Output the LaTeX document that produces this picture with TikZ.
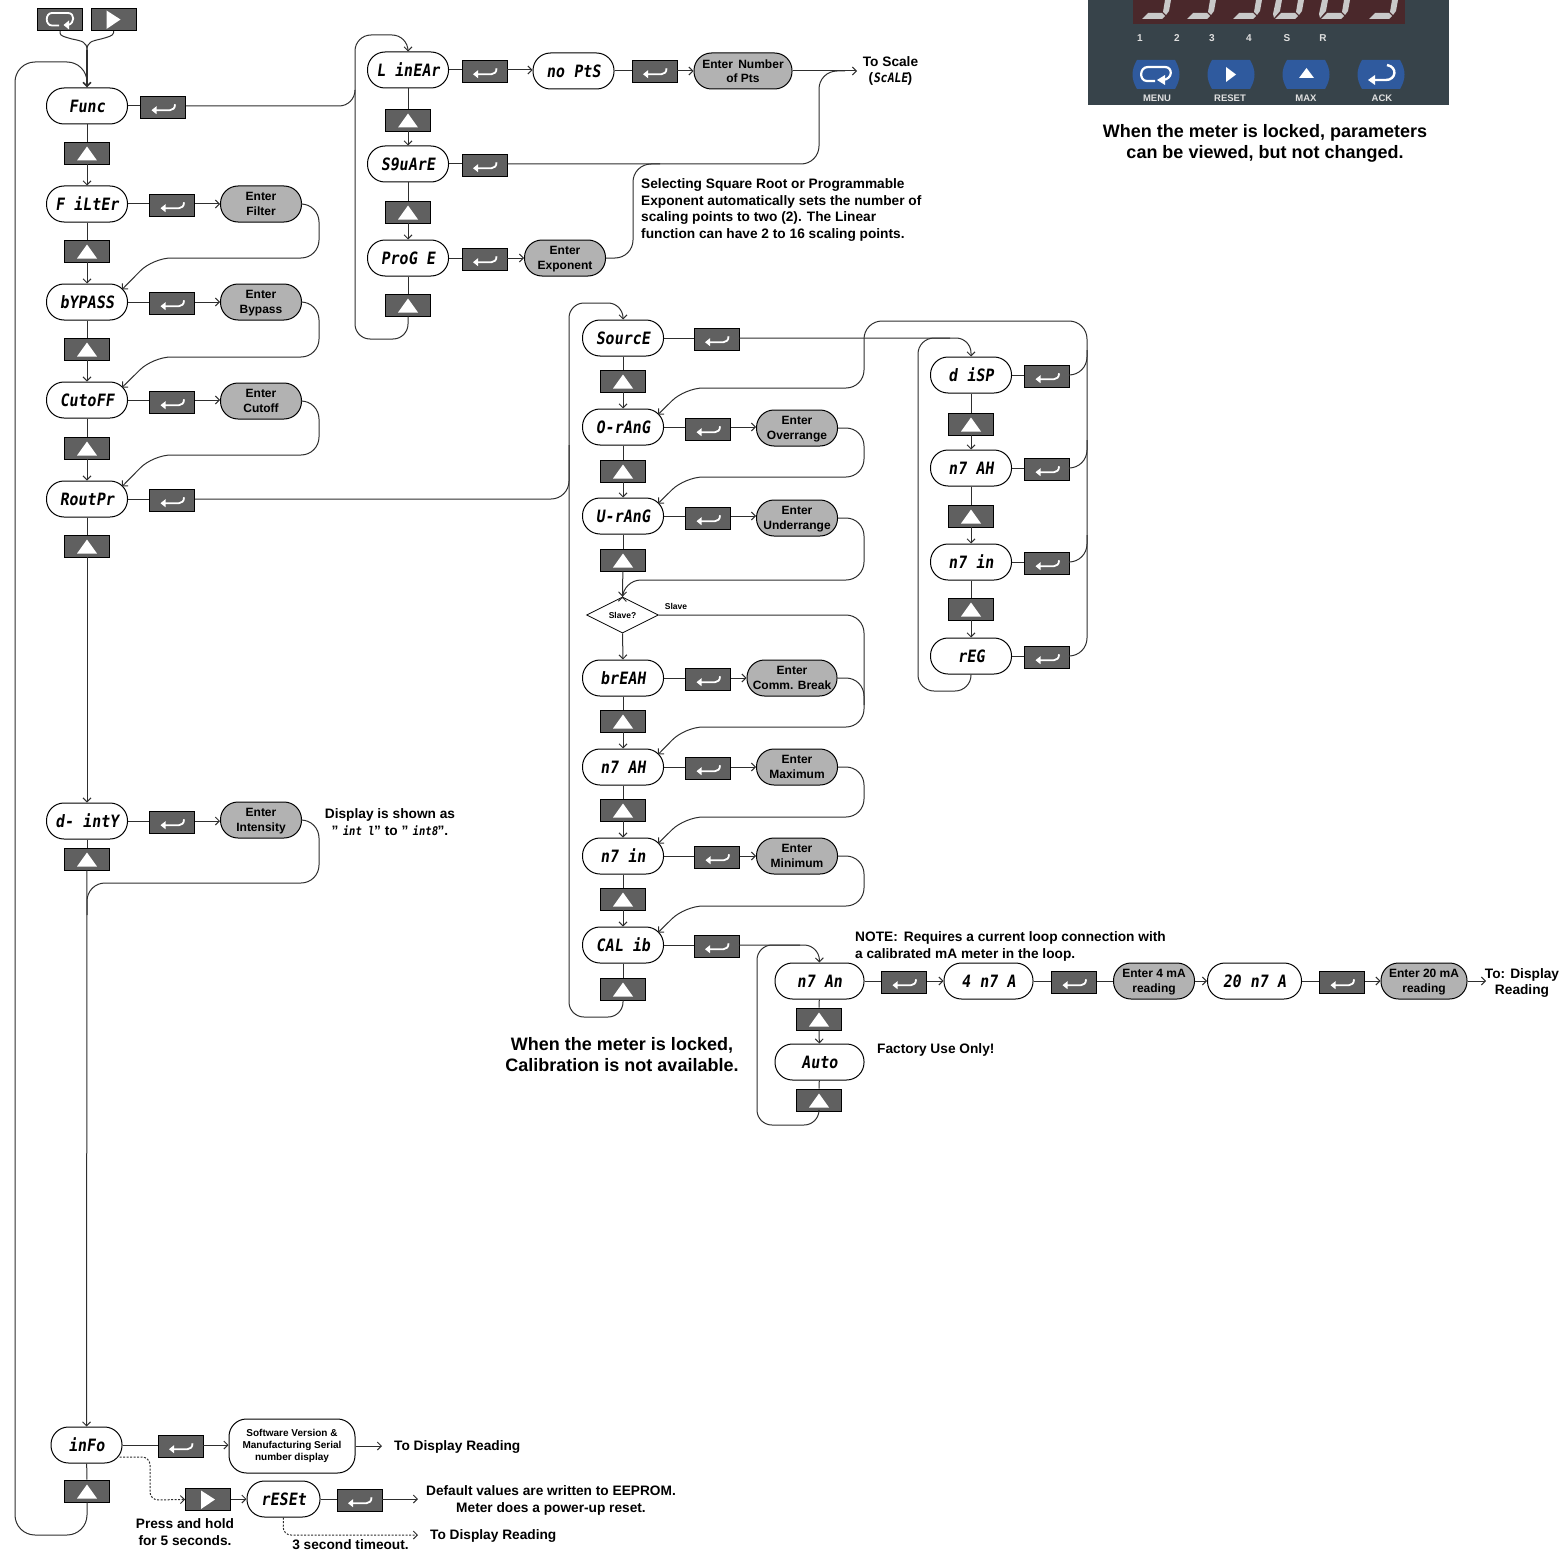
\documentclass[tikz,border=0pt]{standalone}
\usepackage{fontspec}
\setmainfont{Liberation Sans}
\newfontfamily\lcdfam[FakeSlant=0.14,FakeStretch=0.88]{DejaVu Sans Mono}
\usetikzlibrary{arrows.meta,shapes.geometric}
\definecolor{lc}{HTML}{2E2E2E}
\definecolor{btngrey}{HTML}{606060}
\definecolor{pillgrey}{HTML}{B2B2B2}
\definecolor{panelc}{HTML}{37434A}
\definecolor{dispc}{HTML}{4A282B}
\definecolor{bluec}{HTML}{2F5A9E}
\definecolor{segc}{HTML}{C9C9C9}
\newcommand\bft[2]{\bfseries\fontsize{#1}{#2}\selectfont}
\newcommand\rowA[2]{\draw[ln] (#1.east) -- (#1.east -| #2.west);}
\newcommand\rowB[3]{\draw[arr] (#1.east -| #2.east) -- (#1.east -| #3.west);}
\tikzset{
 x=1pt,y=-1pt,
 ln/.style={draw=lc,line width=1pt},
 arr/.style={ln,-{Straight Barb[length=4pt,width=8pt]}},
 dsh/.style={arr,dash pattern=on 2pt off 1.5pt,rounded corners=8},
 rc/.style={rounded corners=18},
 rd/.style={rounded corners=15},
 necorner/.style={xshift=-6,yshift=-6},
 pill/.style={draw=black,line width=1pt,rounded corners=17.5,minimum width=81,minimum height=36,inner sep=0,fill=white,
   font=\lcdfam\bfseries\fontsize{17}{17}\selectfont},
 gpill/.style={pill,fill=pillgrey,font=\bft{12}{14.5},align=center,text depth=-1pt},
 btnbase/.style={draw=black,line width=0.8pt,fill=btngrey,minimum width=45,minimum height=22,inner sep=0},
 upbtn/.style={btnbase,path picture={\begin{scope}[shift={(path picture bounding box.center)}]
    \fill[white] (0,-6.5) -- (10,7.5) -- (-10,7.5) -- cycle;\end{scope}}},
 rtbtn/.style={btnbase,path picture={\begin{scope}[shift={(path picture bounding box.center)}]
    \fill[white] (-7,-9) -- (7,0) -- (-7,9.5) -- cycle;\end{scope}}},
 entbtn/.style={btnbase,path picture={\begin{scope}[shift={(path picture bounding box.center)}]
    \draw[white,line width=1.8pt] (-9,3.2) -- (7,3.2) .. controls (10,3.2) and (12,1) .. (12,-2.7);
    \fill[white] (-11.5,3.2) -- (-6.5,-0.8) -- (-6.5,7.2) -- cycle;\end{scope}}},
 menubtn/.style={btnbase,path picture={\begin{scope}[shift={(path picture bounding box.center)}]
    \draw[white,line width=1.8pt] (-1,6) -- (-8,6) .. controls (-15,6) and (-15,-6.5) .. (-8,-6.5) -- (8,-6.5) .. controls (15,-6.5) and (15,4) .. (8,5.5);
    \fill[white] (3.5,5.5) -- (9,1) -- (9,10) -- cycle;\end{scope}}},
 txt/.style={inner sep=0,align=center,yshift=-2,font=\bft{13.7}{16.5}},
 note/.style={inner sep=0,align=left,yshift=-3,font=\bft{13.7}{16.6}},
 big/.style={inner sep=0,align=center,yshift=-2,font=\bft{18}{21}},
 tiny/.style={inner sep=0,align=center,font=\bft{10}{12}},
 pl/.style={inner sep=0,text=segc!60!white,font=\bft{10}{12}},
}
\begin{document}
\begin{tikzpicture}
\useasboundingbox (0,0) rectangle (1560,1557);
% ---- panel
\fill[panelc] (1088,0) rectangle (1449,105.5);
\fill[dispc] (1133,0) rectangle (1405,24);
\foreach \xx/\lft in {1142/0,1187/0,1233/0,1275/1,1321/1,1369/0}{
 \fill[segc] (\xx,19) -- (\xx+6,13) -- (\xx+20,13) -- (\xx+23,16) -- (\xx+20,19) -- cycle;
 \fill[segc] (\xx+21,12) -- (\xx+24,15) -- (\xx+27,11) -- (\xx+29,0) -- (\xx+23,0) -- cycle;
 \ifnum\lft=1 \fill[segc] (\xx-1,18) -- (\xx+5,11) -- (\xx+7,0) -- (\xx+1,0) -- (\xx-2,14) -- cycle; \fi
}
\foreach \xx/\t in {1140/1,1177/2,1212/3,1249/4,1287/S,1323/R}{\node[pl] at (\xx,38) {\t};}
\foreach \cc in {1156,1231,1306,1381}{
 \fill[bluec] (\cc-19,60) -- (\cc+19,60) .. controls (\cc+25,70) and (\cc+25,79) .. (\cc+19,89) -- (\cc-19,89) .. controls (\cc-25,79) and (\cc-25,70) .. cycle;
}
\draw[white,line width=2.2pt] (1155,81) -- (1147,81) .. controls (1139,81) and (1139,67) .. (1148,67) -- (1165,67) .. controls (1173,67) and (1173,79) .. (1163,80);
\fill[white] (1157,80) -- (1165,75) -- (1165,85) -- cycle;
\fill[white] (1226,67) -- (1236,74.5) -- (1226,82) -- cycle;
\fill[white] (1306.5,68) -- (1314,78) -- (1299,78) -- cycle;
\draw[white,line width=2.4pt] (1372,80) -- (1386,80) .. controls (1396,80) and (1398,67) .. (1387,65);
\fill[white] (1368,80) -- (1375,75) -- (1375,85) -- cycle;
\foreach \xx/\t in {1157/MENU,1230/RESET,1306/MAX,1382/ACK}{\node[pl,font=\bft{9.5}{11},text=white!88!black] at (\xx,98) {\t};}
\node[big] at (1265,141.5) {When the meter is locked, parameters\\can be viewed, but not changed.};
% ---- top buttons
\node[menubtn] (bmenu) at (60,19.5) {};
\node[rtbtn] (bright) at (113.5,19.5) {};
\coordinate (joinA) at (87,50);
% ---- column 1
\node[pill] (func) at (87,106) {Func};
\node[pill] (filter) at (87,204) {F iLtEr};
\node[pill] (bypass) at (87,302) {bYPASS};
\node[pill] (cutoff) at (87,400) {CutoFF};
\node[pill] (rout) at (87,499) {RoutPr};
\node[pill] (dint) at (87,821) {d- intY};
\node[pill,minimum width=71] (info) at (86.5,1445) {inFo};
\node[upbtn] (u1) at (87,153) {};
\node[upbtn] (u2) at (87,251) {};
\node[upbtn] (u3) at (87,349) {};
\node[upbtn] (u4) at (87,448) {};
\node[upbtn] (u5) at (87,546) {};
\node[upbtn] (u6) at (87,859) {};
\node[upbtn] (u7) at (87,1491) {};
\node[entbtn] (e1) at (163,107) {};
\node[entbtn] (e2) at (172,205) {};
\node[entbtn] (e3) at (172,303) {};
\node[entbtn] (e4) at (172,402) {};
\node[entbtn] (e5) at (172,500) {};
\node[entbtn] (e6) at (172,822) {};
\node[gpill] (gfilter) at (261,204) {Enter\\Filter};
\node[gpill] (gbypass) at (261,302) {Enter\\Bypass};
\node[gpill] (gcutoff) at (261,401) {Enter\\Cutoff};
\node[gpill] (gint) at (261,820) {Enter\\Intensity};
\node[txt] (tdisp) at (390,820) {Display is shown as\\" {\lcdfam\bfseries\fontsize{12}{12}\selectfont int l}" to " {\lcdfam\bfseries\fontsize{12}{12}\selectfont int8}".};
% ---- info row
\node[entbtn] (einfo) at (180.5,1446) {};
\node[pill,draw=black,fill=white,minimum width=126,minimum height=54,font=\bft{10}{12},align=center] (soft) at (292,1446) {Software Version \&\\Manufacturing Serial\\number display};
\node[txt,anchor=west] (t1) at (394,1445) {To Display Reading};
\coordinate (c1) at (382,1446);
\node[rtbtn] (bpress) at (208,1499.5) {};
\node[pill,minimum width=73] (reset) at (283.5,1499) {rESEt};
\node[entbtn] (ereset) at (359.5,1500) {};
\coordinate (c2) at (418,1500);
\coordinate (c3) at (418,1535);
\node[txt] (t2) at (551,1498.5) {Default values are written to EEPROM.\\Meter does a power-up reset.};
\node[txt,anchor=west] (t3) at (430,1534) {To Display Reading};
\node[txt] (t4) at (350.5,1543) {3 second timeout.};
\node[txt] (t5) at (185,1530) {Press and hold\\for 5 seconds.};
% ---- column 2
\node[pill] (linear) at (408,70) {L inEAr};
\node[pill] (square) at (408,164) {S9uArE};
\node[pill] (prog) at (408,258) {ProG E};
\node[upbtn] (v1) at (408,120) {};
\node[upbtn] (v2) at (408,212) {};
\node[upbtn] (v3) at (408,305) {};
\node[entbtn] (f1) at (484.5,71) {};
\node[entbtn] (f2) at (484.5,165) {};
\node[entbtn] (f3) at (484.5,259) {};
\node[pill] (nopts) at (573.5,71) {no PtS};
\node[entbtn] (f4) at (654.5,71) {};
\node[gpill,minimum width=98] (gnum) at (743,71) {Enter \,Number\\of Pts};
\node[gpill] (gexp) at (565,258) {Enter\\Exponent};
\coordinate (c4) at (857,71);
\node[txt] (t6) at (890.5,69) {To Scale\\({\lcdfam\bfseries\fontsize{13}{13}\selectfont ScALE})};
\node[note,anchor=north west] (t7) at (641,175.5) {Selecting Square Root or Programmable\\Exponent automatically sets the number of\\scaling points to two (2). The Linear\\function can have 2 to 16 scaling points.};
% ---- column 3
\node[pill] (source) at (623,338) {SourcE};
\node[pill] (orang) at (623,427) {O-rAnG};
\node[pill] (urang) at (623,516) {U-rAnG};
\node[diamond,draw=black,line width=0.8pt,minimum width=72,minimum height=36,inner sep=0,fill=white,font=\bft{8.5}{10}] (slave) at (622.5,615) {Slave?};
\node[pill] (break) at (623,678) {brEAH};
\node[pill] (max) at (623,767) {n7 AH};
\node[pill] (min) at (623,856) {n7 in};
\node[pill] (cal) at (623,945) {CAL ib};
\node[upbtn] (w1) at (623,381) {};
\node[upbtn] (w2) at (623,471) {};
\node[upbtn] (w3) at (623,560) {};
\node[upbtn] (w4) at (623,721) {};
\node[upbtn] (w5) at (623,810) {};
\node[upbtn] (w6) at (623,899) {};
\node[upbtn] (w7) at (623,989) {};
\node[entbtn] (g1) at (716.5,339) {};
\node[entbtn] (g2) at (708,429) {};
\node[entbtn] (g3) at (708,518) {};
\node[entbtn] (g4) at (708,679) {};
\node[entbtn] (g5) at (708,768) {};
\node[entbtn] (g6) at (717,857) {};
\node[entbtn] (g7) at (716.5,946) {};
\node[gpill] (gover) at (797,428) {Enter\\Overrange};
\node[gpill] (gunder) at (797,518) {Enter\\Underrange};
\node[gpill,minimum width=90] (gbreak) at (792,678) {Enter\\Comm. Break};
\node[gpill] (gmax) at (797,767) {Enter\\Maximum};
\node[gpill] (gmin) at (797,856) {Enter\\Minimum};
\node[tiny,font=\bft{8.5}{10}] (t8) at (676,606) {Slave};
\node[big] (t9) at (622,1052.5) {When the meter is locked,\\Calibration is not available.};
% ---- column 4
\node[pill] (disp) at (971,375) {d iSP};
\node[pill] (amax) at (971,468) {n7 AH};
\node[pill] (amin) at (971,562) {n7 in};
\node[pill] (areg) at (971,656) {rEG};
\node[upbtn] (x1) at (971,424) {};
\node[upbtn] (x2) at (971,516) {};
\node[upbtn] (x3) at (971,609) {};
\node[entbtn] (h1) at (1047,376) {};
\node[entbtn] (h2) at (1047,469) {};
\node[entbtn] (h3) at (1047,563) {};
\node[entbtn] (h4) at (1047,657) {};
% ---- calibration
\node[pill,minimum width=89] (man) at (819.5,981) {n7 An};
\node[pill,minimum width=89] (auto) at (819.5,1062) {Auto};
\node[upbtn] (y1) at (819,1019) {};
\node[upbtn] (y2) at (819,1100) {};
\node[entbtn] (k1) at (904,982) {};
\node[pill,minimum width=89] (ma4) at (988.5,981) {4 n7 A};
\node[entbtn] (k2) at (1074,982) {};
\node[gpill] (g4ma) at (1154,981) {Enter 4 mA\\reading};
\node[pill,minimum width=94] (ma20) at (1254.5,981) {20 n7 A};
\node[entbtn] (k3) at (1342,982) {};
\node[gpill,minimum width=86] (g20ma) at (1424,981) {Enter 20 mA\\reading};
\coordinate (c5) at (1486,981);
\node[txt] (t10) at (1522,981) {To: Display\\Reading};
\node[note,anchor=north west] (t11) at (855,928.5) {NOTE: \,Requires a current loop connection with\\a calibrated mA meter in the loop.};
\node[txt,anchor=west] (t12) at (877,1048) {Factory Use Only!};
% ---- connectors, top
\draw[ln] (bmenu.south) -- ++(0,2) .. controls (60,36) and (65,37) .. (72,39) .. controls (82,41) and (87,42) .. (joinA);
\draw[ln] (bright.south) -- ++(0,2) .. controls (113,36) and (108,37) .. (101,39) .. controls (92,41) and (87,42) .. (joinA);
\draw[arr,line width=1.6pt] (joinA) -- (func.north);
\draw[ln,rounded corners=20] (u7.south) -- (87,1535) -- (15,1535) -- (15,62) -- (87,62) -- (func.north);
% column 1 verticals
\draw[ln] (func) -- (u1); \draw[arr] (u1) -- (filter);
\draw[ln] (filter) -- (u2); \draw[arr] (u2) -- (bypass);
\draw[ln] (bypass) -- (u3); \draw[arr] (u3) -- (cutoff);
\draw[ln] (cutoff) -- (u4); \draw[arr] (u4) -- (rout);
\draw[ln] (rout) -- (u5); \draw[arr] (u5) -- (dint);
\draw[ln] (dint) -- (u6); \draw[arr] (u6) -- (info);
\draw[ln] (info) -- (u7);
% column 1 rows
\rowA{func}{e1}
\draw[arr,rounded corners=16] (func.east -| e1.east) -- (355,106) -- (355,35) -- (408,35) -- (linear.north);
\rowA{filter}{e2}\rowB{filter}{e2}{gfilter}
\rowA{bypass}{e3}\rowB{bypass}{e3}{gbypass}
\rowA{cutoff}{e4}\rowB{cutoff}{e4}{gcutoff}
\rowA{dint}{e6}\rowB{dint}{e6}{gint}
\rowA{rout}{e5}
\draw[ln,rc] (rout.east -| e5.east) -- (569,499) -- (569,445);
\draw[arr,rc] (gfilter.east) -- (319,204) -- (319,258) -- (153,258) -- ([necorner]bypass.north east);
\draw[arr,rc] (gbypass.east) -- (319,302) -- (319,357) -- (153,357) -- ([necorner]cutoff.north east);
\draw[arr,rc] (gcutoff.east) -- (319,401) -- (319,455) -- (153,455) -- ([necorner]rout.north east);
\draw[ln,rc] (gint.east) -- (319,820) -- (319,883) -- (87,883) -- (87,915);
% info rows
\rowA{info}{einfo}
\rowB{info}{einfo}{soft}
\draw[arr] (soft.east) -- (c1);
\draw[dsh] ([xshift=-3,yshift=-12]info.east) -- (150,1457) -- (150,1500) -- (bpress.west);
\rowB{reset}{bpress}{reset}
\rowA{reset}{ereset}
\draw[arr] (reset.east -| ereset.east) -- (reset.east -| c2);
\draw[dsh] (reset.south) -- (283,1535) -- (c3);
% column 2
\draw[ln] (linear) -- (v1); \draw[arr] (v1) -- (square);
\draw[ln] (square) -- (v2); \draw[arr] (v2) -- (prog);
\draw[ln] (prog) -- (v3);
\draw[ln,rd] (v3.south) -- (408,339) -- (355,339) -- (355,90);
\rowA{linear}{f1}\rowB{linear}{f1}{nopts}
\rowA{nopts}{f4}\rowB{nopts}{f4}{gnum}
\draw[arr] (gnum.east) -- (c4);
\rowA{square}{f2}
\draw[ln,rc] (square.east -| f2.east) -- (819,164) -- (819,71) -- (845,71);
\rowA{prog}{f3}\rowB{prog}{f3}{gexp}
\draw[ln,rc] (gexp.east) -- (633,258) -- (633,164) -- (660,164);
% column 3
\draw[ln] (source) -- (w1); \draw[arr] (w1) -- (orang);
\draw[ln] (orang) -- (w2); \draw[arr] (w2) -- (urang);
\draw[ln] (urang) -- (w3); \draw[arr] (w3) -- (slave.north);
\draw[arr] (slave.south) -- (break.north);
\draw[ln] (break) -- (w4); \draw[arr] (w4) -- (max);
\draw[ln] (max) -- (w5); \draw[arr] (w5) -- (min);
\draw[ln] (min) -- (w6); \draw[arr] (w6) -- (cal);
\draw[ln] (cal) -- (w7);
\draw[arr,rd] (w7.south) -- (623,1017) -- (569,1017) -- (569,303) -- (623,303) -- (source.north);
\rowA{source}{g1}
\draw[arr,rd] (source.east -| g1.east) -- (971,338) -- (disp.north);
\rowA{orang}{g2}\rowB{orang}{g2}{gover}
\rowA{urang}{g3}\rowB{urang}{g3}{gunder}
\rowA{break}{g4}\rowB{break}{g4}{gbreak}
\rowA{max}{g5}\rowB{max}{g5}{gmax}
\rowA{min}{g6}\rowB{min}{g6}{gmin}
\rowA{cal}{g7}
\draw[arr,rd] (cal.east -| g7.east) -- (819,945) -- (man.north);
\draw[arr,rc] (gover.east) -- (864,428) -- (864,477) -- (685,477) -- ([necorner]urang.north east);
\draw[arr,rc] (gunder.east) -- (864,518) -- (864,580) -- (623,580) -- (slave.north);
\draw[arr,rc] (slave.east) -- (864,615) -- (864,727) -- (685,727) -- ([necorner]max.north east);
\draw[ln,rc] (gbreak.east) -- (864,678) -- (864,705);
\draw[arr,rc] (gmax.east) -- (864,767) -- (864,817) -- (685,817) -- ([necorner]min.north east);
\draw[arr,rc] (gmin.east) -- (864,856) -- (864,906) -- (685,906) -- ([necorner]cal.north east);
% column 4
\draw[ln] (disp) -- (x1); \draw[arr] (x1) -- (amax);
\draw[ln] (amax) -- (x2); \draw[arr] (x2) -- (amin);
\draw[ln] (amin) -- (x3); \draw[arr] (x3) -- (areg);
\draw[ln,rounded corners=16] (areg.south) -- (971,691) -- (918,691) -- (918,338) -- (950,338);
\rowA{disp}{h1}\rowA{amax}{h2}\rowA{amin}{h3}\rowA{areg}{h4}
\draw[arr,rc] (disp.east -| h1.east) -- (1087,375) -- (1087,321) -- (864,321) -- (864,388) -- (685,388) -- ([necorner]orang.north east);
\draw[ln,rc] (amax.east -| h2.east) -- (1087,468) -- (1087,440);
\draw[ln,rc] (amin.east -| h3.east) -- (1087,562) -- (1087,535);
\draw[ln,rc] (areg.east -| h4.east) -- (1087,656) -- (1087,350);
% calibration
\draw[ln] (man) -- (y1); \draw[arr] (y1) -- (auto);
\draw[ln] (auto) -- (y2);
\draw[ln,rd] (y2.south) -- (819,1125) -- (757,1125) -- (757,945) -- (800,945);
\rowA{man}{k1}\rowB{man}{k1}{ma4}
\rowA{ma4}{k2}
\draw[ln] (ma4.east -| k2.east) -- (g4ma.west);
\draw[arr] (g4ma.east) -- (ma20.west);
\rowA{ma20}{k3}\rowB{ma20}{k3}{g20ma}
\draw[arr] (g20ma.east) -- (c5);
\end{tikzpicture}
\end{document}
